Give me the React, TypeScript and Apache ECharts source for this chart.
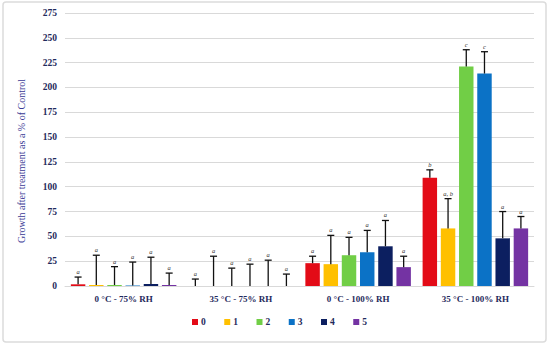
import React, { useEffect, useRef } from "react";
import * as echarts from "echarts";

const categories = ["0 °C - 75% RH", "35 °C - 75% RH", "0 °C - 100% RH", "35 °C - 100% RH"];
const treatments = ["0", "1", "2", "3", "4", "5"];
const colors = ["#E30B17", "#FFC000", "#71CE46", "#0B72C6", "#0C1F60", "#7433A3"];

const means0 = [1.7, 0, 23, 109];
const means1 = [1, 0, 22, 58];
const means2 = [1, 0, 31, 221];
const means3 = [0.6, 0, 34, 214];
const means4 = [2, 0, 40, 48];
const means5 = [1, 0, 19, 58];

const errs0 = [7.3, 7, 7, 8];
const errs1 = [30, 30, 29, 30];
const errs2 = [18.5, 18, 18, 17];
const errs3 = [23.5, 22, 22, 22];
const errs4 = [27, 26, 26, 27];
const errs5 = [12, 12, 11, 12];

const letters0 = ["a", "a", "a", "b"];
const letters1 = ["a", "a", "a", "a, b"];
const letters2 = ["a", "a", "a", "c"];
const letters3 = ["a", "a", "a", "c"];
const letters4 = ["a", "a", "a", "a"];
const letters5 = ["a", "a", "a", "a"];

const yTicks = [0, 25, 50, 75, 100, 125, 150, 175, 200, 225, 250, 275];

const allMeans = [means0, means1, means2, means3, means4, means5];
const allErrs = [errs0, errs1, errs2, errs3, errs4, errs5];
const allLetters = [letters0, letters1, letters2, letters3, letters4, letters5];

const CAT_GAP = 0.1;
const BAR_GAP = 0.26;
const FONT = "'Liberation Serif', 'DejaVu Serif', serif";
const NAVY = "#1F2A5C";

export default function App() {
  const ref = useRef<HTMLDivElement>(null);
  useEffect(() => {
    document.body.style.margin = "0";
    const chart = echarts.init(ref.current!, null, { renderer: "svg" });
    const n = treatments.length;
    const barSeries = treatments.map((t, i) => ({
      name: t,
      type: "bar",
      data: allMeans[i],
      itemStyle: { color: colors[i] },
      barGap: BAR_GAP * 100 + "%",
      barCategoryGap: CAT_GAP * 100 + "%",
    }));
    const errSeries = treatments.map((t, i) => ({
      name: "err" + t,
      type: "custom",
      z: 5,
      data: allMeans[i].map((m, c) => [c, m, allErrs[i][c]]),
      encode: { x: 0, y: 1 },
      renderItem: (params: any, api: any) => {
        const c = api.value(0);
        const m = api.value(1);
        const e = api.value(2);
        const catW = api.size([1, 0])[0];
        const w = (catW * (1 - CAT_GAP)) / (n + (n - 1) * BAR_GAP);
        const total = n * w + (n - 1) * w * BAR_GAP;
        const off = -total / 2 + i * w * (1 + BAR_GAP) + w / 2;
        const base = api.coord([c, m]);
        const top = api.coord([c, m + e]);
        const x = base[0] + off;
        const cap = 3.5;
        return {
          type: "group",
          children: [
            { type: "line", shape: { x1: x, y1: base[1], x2: x, y2: top[1] }, style: { stroke: "#111", lineWidth: 1.3 } },
            { type: "line", shape: { x1: x - cap, y1: top[1], x2: x + cap, y2: top[1] }, style: { stroke: "#111", lineWidth: 1.3 } },
            {
              type: "text",
              x: x,
              y: top[1] - 2,
              style: {
                text: allLetters[i][c],
                textAlign: "center",
                textVerticalAlign: "bottom",
                font: "italic 6.5px " + FONT,
                fill: "#333",
              },
            },
          ],
        };
      },
    }));
    chart.setOption({
      animation: false,
      grid: { left: 65, right: 16, top: 13, bottom: 60 },
      xAxis: {
        type: "category",
        data: categories,
        axisLine: { lineStyle: { color: "#D9D9D9" } },
        axisTick: { show: false },
        axisLabel: { color: NAVY, fontFamily: FONT, fontWeight: "bold", fontSize: 9, margin: 8 },
      },
      yAxis: {
        type: "value",
        min: 0,
        max: yTicks[yTicks.length - 1],
        interval: 25,
        axisLine: { show: false },
        axisTick: { show: false },
        axisLabel: { color: NAVY, fontFamily: FONT, fontWeight: "bold", fontSize: 9.5, margin: 8 },
        splitLine: { lineStyle: { color: "#D9D9D9" } },
      },
      legend: {
        data: treatments,
        bottom: 14,
        left: 187,
        icon: "rect",
        itemWidth: 6,
        itemHeight: 6,
        itemGap: 18.5,
        textStyle: { color: NAVY, fontFamily: FONT, fontWeight: "bold", fontSize: 9.5, padding: [0, 0, 0, -2] },
      },
      graphic: [
        {
          type: "rect",
          shape: { x: 3, y: 2, width: 543, height: 340, r: 3 },
          style: { fill: "none", stroke: "#DCDCDC", lineWidth: 1.5 },
          silent: true,
        },
        {
          type: "text",
          x: 21,
          y: 161,
          rotation: Math.PI / 2,
          style: {
            text: "Growth after treatment as a % of Control",
            textAlign: "center",
            textVerticalAlign: "middle",
            font: "10px " + FONT,
            fill: "#3A3A96",
          },
        },
      ],
      series: [...barSeries, ...errSeries],
    });
    return () => chart.dispose();
  }, []);
  return <div ref={ref} style={{ width: 550, height: 346 }} />;
}
